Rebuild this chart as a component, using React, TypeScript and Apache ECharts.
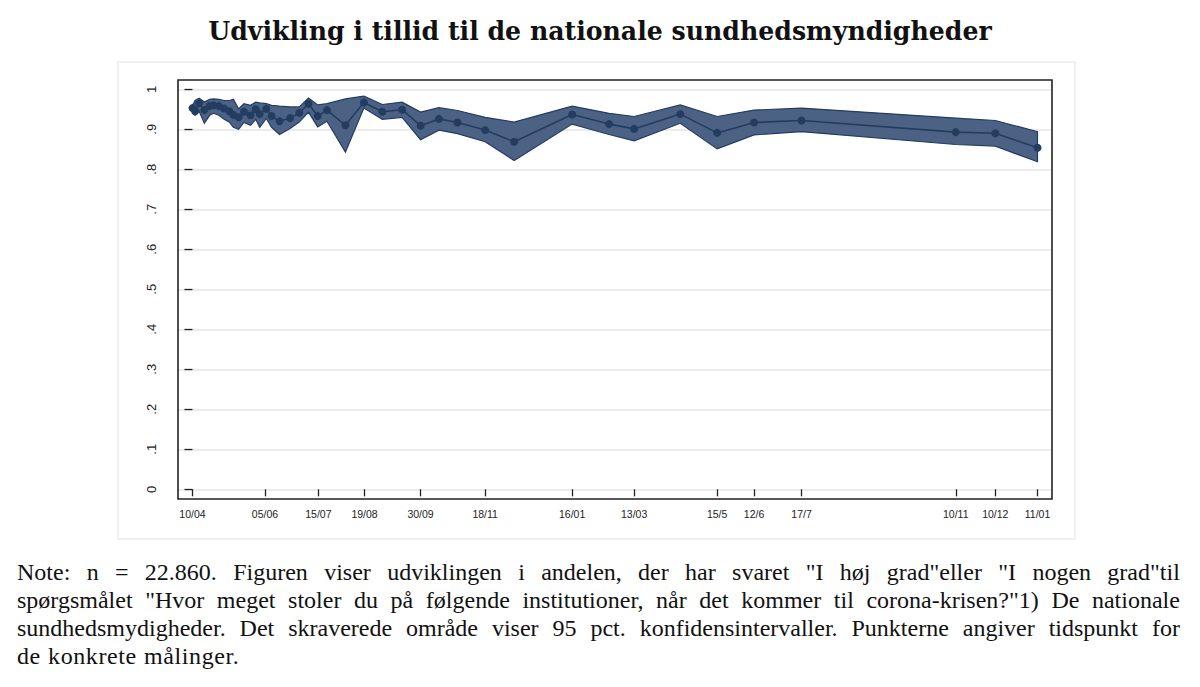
import React, { useEffect, useRef } from "react";
import * as echarts from "echarts";

const dayX = [0, 2, 5, 9, 13, 16, 20, 24, 28, 31, 35, 39, 44, 48, 51, 56, 60, 66, 74, 81, 88, 95, 102, 116, 130, 144, 159, 173, 187, 201, 222, 244, 288, 316, 335, 370, 398, 426, 462, 579, 609, 641];
const trust = [0.953, 0.945, 0.965, 0.948, 0.958, 0.96, 0.958, 0.952, 0.945, 0.936, 0.93, 0.944, 0.935, 0.95, 0.938, 0.951, 0.933, 0.92, 0.928, 0.941, 0.964, 0.933, 0.948, 0.91, 0.967, 0.944, 0.949, 0.909, 0.926, 0.917, 0.898, 0.869, 0.937, 0.913, 0.901, 0.938, 0.891, 0.917, 0.922, 0.893, 0.89, 0.854];
const upper = [0.96, 0.972, 0.978, 0.968, 0.975, 0.976, 0.975, 0.972, 0.972, 0.975, 0.951, 0.964, 0.96, 0.968, 0.966, 0.964, 0.96, 0.958, 0.956, 0.956, 0.978, 0.961, 0.964, 0.976, 0.983, 0.962, 0.968, 0.943, 0.954, 0.947, 0.93, 0.918, 0.958, 0.94, 0.932, 0.961, 0.932, 0.948, 0.953, 0.928, 0.922, 0.894];
const lower = [0.94, 0.935, 0.945, 0.915, 0.935, 0.94, 0.935, 0.925, 0.918, 0.905, 0.9, 0.917, 0.91, 0.925, 0.905, 0.927, 0.905, 0.887, 0.902, 0.918, 0.943, 0.906, 0.92, 0.843, 0.953, 0.925, 0.93, 0.874, 0.898, 0.889, 0.869, 0.822, 0.913, 0.887, 0.871, 0.915, 0.851, 0.886, 0.894, 0.862, 0.858, 0.819];

const tickDays = [0, 55, 95.5, 130.5, 173, 222, 288, 335, 398, 426, 462, 579, 609, 641];
const tickLabels = ["10/04", "05/06", "15/07", "19/08", "30/09", "18/11", "16/01", "13/03", "15/5", "12/6", "17/7", "10/11", "10/12", "11/01"];

const titleText = "Udvikling i tillid til de nationale sundhedsmyndigheder";
const noteLines = [
  'Note: n = 22.860. Figuren viser udviklingen i andelen, der har svaret "I høj grad"eller "I nogen grad"til',
  'spørgsmålet "Hvor meget stoler du på følgende institutioner, når det kommer til corona-krisen?"1) De nationale',
  "sundhedsmydigheder. Det skraverede område viser 95 pct. konfidensintervaller. Punkterne angiver tidspunkt for",
  "de konkrete målinger.",
];

const NAVY = "#233d61";
const BAND = "#4b6285";

function Chart() {
  const ref = useRef<HTMLDivElement>(null);
  useEffect(() => {
    if (!ref.current) return;
    const chart = echarts.init(ref.current, null, { renderer: "svg" });
    const lineData = dayX.map((d, i) => [d, trust[i]]);
    chart.setOption({
      animation: false,
      backgroundColor: "#ffffff",
      title: {
        text: titleText,
        left: "center",
        top: 18,
        padding: 0,
        textStyle: {
          fontFamily: "DejaVu Serif",
          fontWeight: "bold",
          fontSize: 25.2,
          color: "#111",
        },
      },
      graphic: [
        {
          type: "rect",
          shape: { x: 118, y: 62, width: 957, height: 477 },
          style: { fill: "none", stroke: "#ececec", lineWidth: 1.5 },
          silent: true,
        },
        {
          type: "rect",
          shape: { x: 178, y: 80, width: 874, height: 419 },
          style: { fill: "none", stroke: "#222", lineWidth: 1.6 },
          silent: true,
          z: 100,
        },
      ],
      grid: { left: 178, right: 148, top: 89.3, bottom: 197.7 },
      xAxis: {
        type: "value",
        min: -11,
        max: 652,
        offset: 10,
        axisLine: { show: false },
        splitLine: { show: false },
        axisTick: {
          show: true,
          length: 7,
          customValues: tickDays,
          lineStyle: { color: "#222", width: 1.3 },
        },
        axisLabel: {
          customValues: tickDays,
          formatter: (v: number) => {
            const i = tickDays.indexOf(v);
            return i >= 0 ? tickLabels[i] : "";
          },
          fontFamily: "Liberation Sans",
          fontSize: 10.5,
          color: "#222",
          margin: 9,
        },
      },
      yAxis: {
        type: "value",
        min: 0,
        max: 1,
        interval: 0.1,
        axisLine: { show: false },
        axisTick: { show: true, length: 8, lineStyle: { color: "#222", width: 1.3 } },
        splitLine: { show: true, lineStyle: { color: "#e4e4e4", width: 1.6 } },
        axisLabel: {
          rotate: 90,
          fontFamily: "Liberation Sans",
          fontSize: 13,
          color: "#222",
          margin: 20,
          formatter: (v: number) => {
            const r = Math.round(v * 10);
            if (r === 0) return "0";
            if (r === 10) return "1";
            return "." + r;
          },
        },
      },
      series: [
        {
          type: "custom",
          name: "95% CI",
          data: [0],
          silent: true,
          z: 2,
          renderItem: (_params: any, api: any) => {
            const pts: number[][] = [];
            for (let i = 0; i < dayX.length; i++) pts.push(api.coord([dayX[i], upper[i]]));
            for (let i = dayX.length - 1; i >= 0; i--) pts.push(api.coord([dayX[i], lower[i]]));
            return {
              type: "polygon",
              shape: { points: pts },
              style: { fill: BAND, stroke: NAVY, lineWidth: 1.2 },
            };
          },
        },
        {
          type: "line",
          name: "Tillid",
          data: lineData,
          z: 3,
          symbol: "circle",
          symbolSize: 8,
          showSymbol: true,
          itemStyle: { color: NAVY },
          lineStyle: { color: NAVY, width: 1.6 },
        },
      ],
    });
    return () => chart.dispose();
  }, []);
  return <div ref={ref} style={{ position: "absolute", left: 0, top: 0, width: 1200, height: 687 }} />;
}

export default function App() {
  return (
    <div style={{ position: "absolute", left: 0, top: 0, width: 1200, height: 687, overflow: "hidden", background: "#fff" }}>
      <Chart />
      <div
        style={{
          position: "absolute",
          left: 17,
          top: 558,
          width: 1163,
          font: '24px/28px "Liberation Serif", "DejaVu Serif", serif',
          color: "#111",
        }}
      >
        {noteLines.map((line, li) => {
          const last = li === noteLines.length - 1;
          const words = line.split(" ");
          return (
            <div
              key={li}
              style={{
                display: "flex",
                justifyContent: last ? "flex-start" : "space-between",
                whiteSpace: "nowrap",
                gap: last ? "0.3em" : undefined,
                letterSpacing: last ? "0.6px" : undefined,
              }}
            >
              {words.map((w, wi) => (
                <span key={wi}>{w}</span>
              ))}
            </div>
          );
        })}
      </div>
    </div>
  );
}
